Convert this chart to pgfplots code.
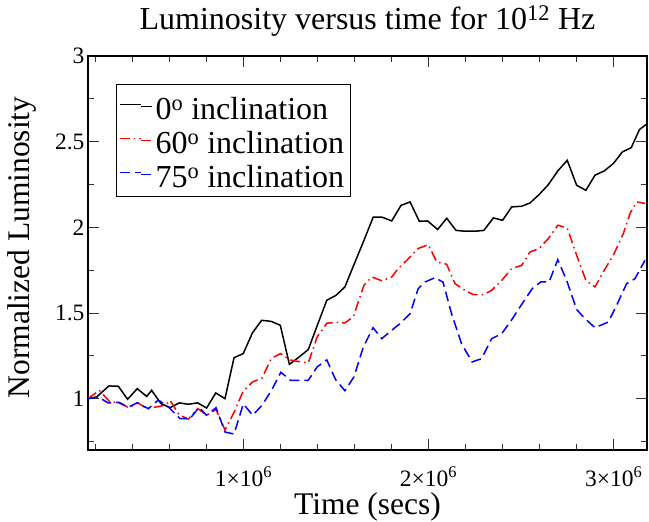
\documentclass[border=0pt]{standalone}
\usepackage{pgfplots}
\pgfplotsset{compat=1.18}
\usepackage{fontspec}
\setmainfont{Liberation Serif}
\pgfplotstableread{
t v
160000 1.000
207000 1.010
273000 1.074
324000 1.072
374000 0.996
426000 1.058
477000 1.013
504000 1.048
554000 0.971
603000 0.947
653000 0.975
702000 0.967
753000 0.975
801000 0.945
850000 1.033
900000 1.000
949000 1.239
999000 1.263
1048000 1.383
1098000 1.457
1149000 1.451
1199000 1.428
1248000 1.200
1296000 1.239
1350000 1.286
1399000 1.428
1450000 1.574
1500000 1.603
1548000 1.652
1599000 1.788
1651000 1.924
1701000 2.060
1747000 2.060
1801000 2.037
1851000 2.128
1900000 2.148
1950000 2.035
1995000 2.037
2049000 1.987
2098000 2.053
2148000 1.982
2197000 1.977
2251000 1.977
2299000 1.982
2350000 2.055
2400000 2.041
2449000 2.119
2503000 2.123
2548000 2.142
2597000 2.191
2647000 2.249
2698000 2.329
2749000 2.391
2800000 2.245
2850000 2.216
2899000 2.304
2949000 2.329
2998000 2.372
3047000 2.440
3095000 2.465
3139000 2.570
3175000 2.600
}\blackdata
\pgfplotstableread{
t v
160000 1.000
221000 1.048
279000 0.980
327000 0.980
378000 0.947
429000 0.975
477000 0.942
527000 0.951
580000 0.962
603000 0.990
653000 0.905
702000 0.880
753000 0.942
801000 0.903
852000 0.936
900000 0.817
949000 0.920
999000 1.045
1049000 1.097
1100000 1.120
1151000 1.235
1200000 1.263
1251000 1.226
1300000 1.216
1350000 1.208
1398000 1.360
1450000 1.440
1500000 1.445
1548000 1.442
1593000 1.477
1651000 1.662
1693000 1.710
1747000 1.688
1801000 1.710
1836000 1.759
1882000 1.807
1944000 1.876
1998000 1.899
2044000 1.798
2098000 1.784
2143000 1.671
2197000 1.632
2242000 1.607
2296000 1.607
2341000 1.632
2395000 1.690
2449000 1.759
2503000 1.778
2548000 1.856
2597000 1.876
2647000 1.934
2698000 2.012
2749000 1.996
2800000 1.837
2850000 1.690
2899000 1.652
2949000 1.749
2998000 1.837
3052000 1.963
3088000 2.080
3124000 2.148
3169000 2.140
}\reddata
\pgfplotstableread{
t v
160000 1.000
216000 1.010
268000 0.975
324000 0.978
378000 0.949
426000 0.976
486000 0.941
540000 0.992
594000 0.951
657000 0.883
711000 0.883
760000 0.949
800000 0.903
852000 0.947
900000 0.805
949000 0.793
999000 0.969
1050000 0.903
1100000 0.961
1152000 1.049
1202000 1.154
1254000 1.107
1300000 1.107
1350000 1.107
1398000 1.185
1450000 1.226
1498000 1.110
1548000 1.046
1597000 1.127
1647000 1.300
1700000 1.414
1747000 1.350
1801000 1.399
1846000 1.438
1900000 1.496
1944000 1.642
1981000 1.681
2035000 1.706
2078000 1.680
2124000 1.496
2178000 1.321
2235000 1.214
2286000 1.233
2341000 1.350
2395000 1.379
2449000 1.460
2506000 1.555
2560000 1.642
2606000 1.681
2651000 1.681
2698000 1.811
2746000 1.690
2800000 1.520
2845000 1.467
2899000 1.414
2971000 1.447
3016000 1.545
3070000 1.671
3115000 1.700
3169000 1.807
}\bluedata
\begin{document}
\begin{tikzpicture}
\useasboundingbox (0,0) rectangle (649pt,522pt);
\begin{axis}[
  at={(88pt,72pt)}, anchor=south west,
  scale only axis, width=559pt, height=394pt,
  xmin=160000, xmax=3180000, ymin=0.7, ymax=3,
  scaled x ticks=false,
  xtick={1000000,2000000,3000000},
  xticklabels={1×10\textsuperscript{6},2×10\textsuperscript{6},3×10\textsuperscript{6}},
  minor xtick={200000,400000,600000,800000,1200000,1400000,1600000,1800000,2200000,2400000,2600000,2800000},
  ytick={1,1.5,2,2.5,3},
  yticklabels={1,1.5,2,2.5,3},
  minor ytick={0.75,1.25,1.75,2.25,2.75},
  tick align=inside, tick pos=both,
  major tick length=11pt, minor tick length=6pt,
  every tick/.style={black!80, line width=0.8pt},
  axis line style={line width=1.4pt},
  ticklabel style={font=\fontsize{23.5}{28}\selectfont},
  xticklabel style={anchor=base, yshift=-37pt, inner sep=0pt},
  xlabel={Time (secs)},
  ylabel={Normalized Luminosity},
  title={Luminosity versus time for 10\textsuperscript{12} Hz},
  every axis title shift=0pt,
  label style={font=\fontsize{31.5}{36}\selectfont},
  xlabel style={at={(axis description cs:0.5,0)}, anchor=base, yshift=-65pt, inner sep=0pt},
  ylabel style={at={(axis description cs:-0.118,0.514)}, anchor=center, inner sep=0pt},
  title style={at={(axis description cs:0.5,1)}, anchor=base, yshift=26pt, inner sep=0pt, font=\fontsize{32}{36}\selectfont},
  legend cell align=left,
  legend style={at={(axis description cs:0.0496,0.929)}, anchor=north west, draw=black, line width=0.8pt, fill=white,
    font=\fontsize{32}{34}\selectfont, inner xsep=3pt, inner ysep=5pt, row sep=0pt,
    nodes={inner xsep=3pt, inner ysep=2pt, text height=28pt, text depth=2pt}},
  legend image code/.code={\draw[#1] (0pt,2pt) -- (21pt,2pt); \path (21pt,0pt) -- (32pt,0pt);},
]
\addplot[black, line width=1.5pt] table[x=t,y=v] {\blackdata};
\addlegendentry{0\textsuperscript{o} inclination}
\addplot[red, line width=1.5pt, dash pattern=on 10pt off 4pt on 1.5pt off 4pt] table[x=t,y=v] {\reddata};
\addlegendentry{60\textsuperscript{o} inclination}
\addplot[blue, line width=1.5pt, dash pattern=on 10pt off 5pt] table[x=t,y=v] {\bluedata};
\addlegendentry{75\textsuperscript{o} inclination}
\end{axis}
\end{tikzpicture}
\end{document}
